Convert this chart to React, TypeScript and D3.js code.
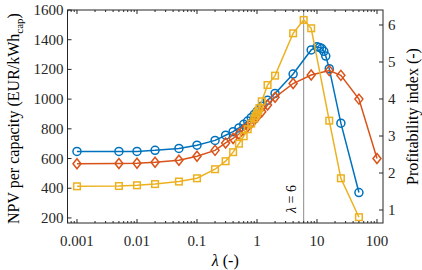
import React from "react";
import * as d3 from "d3";

// lambda values and NPV per capacity (EUR/kWh_cap)
const blueLambda = [0.001, 0.005, 0.01, 0.02, 0.05, 0.1, 0.2, 0.3, 0.4, 0.5, 0.6, 0.7, 0.8, 0.9, 1, 1.2, 1.5, 2, 4, 8, 10, 11, 12, 13, 14, 16, 25, 50];
const blueNpv = [648, 648, 648, 655, 668, 690, 722, 757, 781, 806, 830, 852, 875, 897, 918, 952, 992, 1038, 1169, 1331, 1352, 1348, 1340, 1322, 1290, 1205, 838, 371];

const redLambda = [0.001, 0.005, 0.01, 0.02, 0.05, 0.1, 0.2, 0.3, 0.4, 0.5, 0.6, 0.7, 0.8, 0.9, 1, 1.2, 1.5, 2, 4, 8, 16, 25, 50, 100];
const redNpv = [565, 567, 568, 575, 588, 615, 655, 705, 735, 765, 792, 815, 838, 860, 880, 915, 960, 1012, 1105, 1162, 1192, 1160, 1000, 600];

const yellowLambda = [0.001, 0.005, 0.01, 0.02, 0.05, 0.1, 0.2, 0.3, 0.4, 0.5, 0.6, 0.7, 0.8, 0.9, 0.95, 1, 1.05, 1.1, 1.2, 1.5, 2, 4, 6, 8, 16, 25, 50];
const yellowNpv = [413, 415, 420, 428, 445, 467, 528, 582, 643, 700, 750, 797, 835, 870, 888, 905, 922, 940, 985, 1095, 1158, 1443, 1533, 1477, 855, 467, 205];

const xTicks = [0.001, 0.01, 0.1, 1, 10, 100];
const xTickLabels = ["0.001", "0.01", "0.1", "1", "10", "100"];
const leftTicks = [200, 400, 600, 800, 1000, 1200, 1400, 1600];
const rightTicks = [1, 2, 3, 4, 5, 6];
const markerLambda = 6;

const W = 422, H = 270;
const left = 67.5, right = 383, top = 10, bottom = 223;
const font = "Liberation Serif, Times New Roman, serif";
const axisColor = "#262626";

export default function App() {
  const x = d3.scaleLog().domain([Math.pow(10, -3.158), Math.pow(10, 2.1)]).range([left, right]);
  const y = d3.scaleLinear().domain([166, 1600]).range([bottom, top]);
  const y2 = d3.scaleLinear().domain([0.649, 6.405]).range([bottom, top]);

  const line = d3.line<[number, number]>().x(d => x(d[0])).y(d => y(d[1]));

  // minor ticks 2..9 per decade inside the domain
  const minor: number[] = [];
  for (let e = -4; e <= 2; e++) {
    for (let m = 2; m <= 9; m++) {
      const v = m * Math.pow(10, e);
      const [a, b] = x.domain();
      if (v >= a && v <= b) minor.push(v);
    }
  }

  const series = [
    { xs: blueLambda, ys: blueNpv, color: "#0072BD", shape: "circle" },
    { xs: redLambda, ys: redNpv, color: "#D95319", shape: "diamond" },
    { xs: yellowLambda, ys: yellowNpv, color: "#EDB120", shape: "square" },
  ];

  const marker = (shape: string, cx: number, cy: number, color: string, key: number) => {
    if (shape === "circle") return <circle key={key} cx={cx} cy={cy} r={4} fill="none" stroke={color} strokeWidth={1.5} />;
    if (shape === "square") return <rect key={key} x={cx - 3.3} y={cy - 3.3} width={6.6} height={6.6} fill="none" stroke={color} strokeWidth={1.5} />;
    return <path key={key} d={`M${cx},${cy - 5}L${cx + 4},${cy}L${cx},${cy + 5}L${cx - 4},${cy}Z`} fill="none" stroke={color} strokeWidth={1.5} />;
  };

  return (
    <svg width={W} height={H} style={{ position: "fixed", left: 0, top: 0, background: "#fff", fontFamily: font }}>
      {/* lambda = 6 reference line */}
      <line x1={x(markerLambda)} x2={x(markerLambda)} y1={top} y2={bottom} stroke="#8c8c8c" strokeWidth={1} />
      <text transform={`translate(${x(markerLambda) - 8},${bottom - 24}) rotate(-90)`} textAnchor="middle" fontSize={14} fill="#000">
        <tspan fontStyle="italic">λ</tspan> = 6
      </text>

      {series.map((s, i) => (
        <g key={i}>
          <path d={line(s.xs.map((v, j) => [v, s.ys[j]] as [number, number])) || ""} fill="none" stroke={s.color} strokeWidth={1.5} />
          {s.xs.map((v, j) => marker(s.shape, x(v), y(s.ys[j]), s.color, j))}
        </g>
      ))}

      {/* box */}
      <rect x={left} y={top} width={right - left} height={bottom - top} fill="none" stroke={axisColor} strokeWidth={1} />

      {/* x ticks, top and bottom */}
      {xTicks.map(v => (
        <g key={v}>
          <line x1={x(v)} x2={x(v)} y1={bottom} y2={bottom - 4} stroke={axisColor} />
          <line x1={x(v)} x2={x(v)} y1={top} y2={top + 4} stroke={axisColor} />
        </g>
      ))}
      {minor.map(v => (
        <g key={"m" + v}>
          <line x1={x(v)} x2={x(v)} y1={bottom} y2={bottom - 2} stroke={axisColor} />
          <line x1={x(v)} x2={x(v)} y1={top} y2={top + 2} stroke={axisColor} />
        </g>
      ))}
      {xTicks.map((v, i) => (
        <text key={"l" + v} x={x(v)} y={246} textAnchor="middle" fontSize={15} fill={axisColor}>{xTickLabels[i]}</text>
      ))}

      {/* left axis */}
      {leftTicks.map(v => (
        <g key={"y" + v}>
          <line x1={left} x2={left + 4} y1={y(v)} y2={y(v)} stroke={axisColor} />
          <text x={left - 4} y={y(v) + 5} textAnchor="end" fontSize={15} fill={axisColor}>{v}</text>
        </g>
      ))}

      {/* right axis */}
      {rightTicks.map(v => (
        <g key={"r" + v}>
          <line x1={right} x2={right - 4} y1={y2(v)} y2={y2(v)} stroke={axisColor} />
          <text x={right + 5} y={y2(v) + 5} textAnchor="start" fontSize={15} fill={axisColor}>{v}</text>
        </g>
      ))}

      {/* axis titles */}
      <text transform={`translate(${19},${(top + bottom) / 2 + 2}) rotate(-90)`} textAnchor="middle" fontSize={16} fill="#000">
        NPV per capacity (EUR/kWh<tspan fontSize={11} dy={4}>cap</tspan><tspan dy={-4}>)</tspan>
      </text>
      <text transform={`translate(${418},${(top + bottom) / 2}) rotate(-90)`} textAnchor="middle" fontSize={16} fill="#000">
        Profitability index (-)
      </text>
      <text x={(left + right) / 2} y={266} textAnchor="middle" fontSize={16} fill="#000">
        <tspan fontStyle="italic">λ</tspan> (-)
      </text>
    </svg>
  );
}
